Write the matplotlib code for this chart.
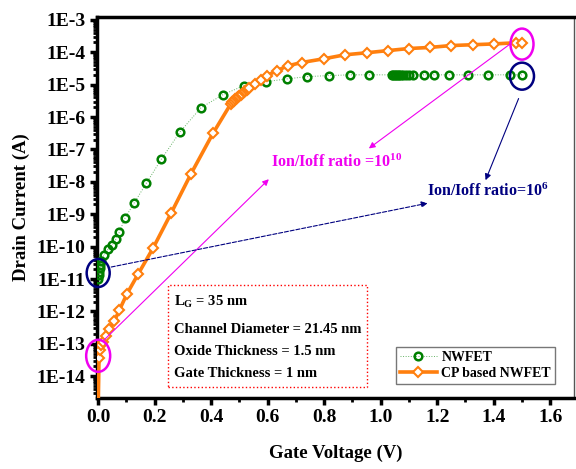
import matplotlib
matplotlib.use("Agg")
from matplotlib import pyplot as plt
from matplotlib.patches import Ellipse, Rectangle
from matplotlib.transforms import ScaledTranslation
from matplotlib.ticker import FixedLocator, LogLocator, NullFormatter, MultipleLocator

plt.rcParams['font.family'] = 'Liberation Serif'
plt.rcParams['font.weight'] = 'bold'
plt.rcParams['mathtext.fontset'] = 'custom'
plt.rcParams['mathtext.rm'] = 'Liberation Serif:bold'
plt.rcParams['mathtext.it'] = 'Liberation Serif:bold'
plt.rcParams['mathtext.bf'] = 'Liberation Serif:bold'
plt.rcParams['mathtext.default'] = 'rm'

# NWFET (green circles)
nw_v = [0.0, 0.002, 0.004, 0.006, 0.008, 0.01, 0.02, 0.035, 0.05, 0.063, 0.075,
        0.095, 0.127, 0.17, 0.223, 0.29, 0.364, 0.442, 0.516, 0.594, 0.668,
        0.738, 0.816, 0.89, 0.96, 1.04, 1.045, 1.05, 1.055, 1.06, 1.065, 1.07,
        1.08, 1.09, 1.10, 1.115, 1.152, 1.19, 1.24, 1.31, 1.38, 1.456, 1.50]
nw_i = [1.0e-11, 1.3e-11, 1.7e-11, 2.2e-11, 2.8e-11, 3.5e-11, 5.5e-11, 8.3e-11,
        1.15e-10, 1.7e-10, 2.8e-10, 7.6e-10, 2.2e-9, 8.9e-9, 4.9e-8, 3.5e-7,
        1.95e-6, 4.9e-6, 9.3e-6, 1.23e-5, 1.5e-5, 1.76e-5, 1.9e-5, 2.0e-5,
        2.0e-5, 2.0e-5, 2.0e-5, 2.0e-5, 2.0e-5, 2.0e-5, 2.0e-5, 2.0e-5, 2.0e-5,
        2.0e-5, 2.0e-5, 2.0e-5, 2.0e-5, 2.0e-5, 2.0e-5, 2.0e-5, 2.0e-5, 2.0e-5,
        2.0e-5]

# CP based NWFET (orange diamonds)
cp_v = [0.0, 0.003, 0.005, 0.01, 0.017, 0.028, 0.04, 0.057, 0.075, 0.102, 0.141,
        0.194, 0.258, 0.329, 0.406, 0.47, 0.475, 0.48, 0.485, 0.49, 0.495, 0.50,
        0.505, 0.51, 0.515, 0.52, 0.525, 0.53, 0.534, 0.555, 0.576, 0.597, 0.633,
        0.671, 0.72, 0.80, 0.873, 0.95, 1.025, 1.10, 1.173, 1.247, 1.325, 1.40,
        1.477, 1.50]
cp_i = [1.0e-15, 3.7e-14, 6.6e-14, 9.0e-14, 1.1e-13, 1.8e-13, 2.9e-13, 5.0e-13,
        1.1e-12, 3.5e-12, 1.4e-11, 8.9e-11, 1.07e-9, 1.8e-8, 3.1e-7, 2.6e-6,
        2.9e-6, 3.2e-6, 3.5e-6, 3.8e-6, 4.1e-6, 4.5e-6, 4.9e-6, 5.3e-6, 5.8e-6,
        6.3e-6, 6.9e-6, 7.5e-6, 8.1e-6, 1.07e-5, 1.42e-5, 1.9e-5, 2.7e-5, 3.8e-5,
        4.8e-5, 6.3e-5, 8.3e-5, 9.6e-5, 1.12e-4, 1.3e-4, 1.4e-4, 1.6e-4, 1.7e-4,
        1.8e-4, 1.95e-4, 1.95e-4]

y_ticks = [1e-3, 1e-4, 1e-5, 1e-6, 1e-7, 1e-8, 1e-9, 1e-10, 1e-11, 1e-12, 1e-13, 1e-14]
y_labels = ['1E-3', '1E-4', '1E-5', '1E-6', '1E-7', '1E-8', '1E-9', '1E-10',
            '1E-11', '1E-12', '1E-13', '1E-14']
x_ticks = [0.0, 0.2, 0.4, 0.6, 0.8, 1.0, 1.2, 1.4, 1.6]
info_lines = ['L$_{G}$ = 35 nm', 'Channel Diameter = 21.45 nm',
              'Oxide Thickness = 1.5 nm', 'Gate Thickness = 1 nm']

GREEN = '#008000'
ORANGE = '#FF7F0E'
MAGENTA = '#F000F0'
NAVY = '#000080'


def ring(ax, x, y, w_px, h_px, color):
    tr = ax.figure.dpi_scale_trans + ScaledTranslation(x, y, ax.transData)
    ax.add_patch(Ellipse((0, 0), w_px / 100, h_px / 100, transform=tr, fill=False,
                         ec=color, lw=1.8, clip_on=False, zorder=6))


def arrow(ax, start, end, color, ls='-'):
    ax.annotate('', xy=end, xytext=start,
                arrowprops=dict(arrowstyle='-|>', color=color, lw=0.8, ls=ls,
                                mutation_scale=9, shrinkA=0, shrinkB=0), zorder=5)


fig = plt.figure(figsize=(5.76, 4.69), dpi=100)
ax = fig.add_axes([0.168, 0.151, 0.829, 0.813])

ax.plot(nw_v, nw_i, ls=':', lw=0.7, color='#66b366', marker='o', ms=5.5, mew=1.8,
        mfc='none', mec=GREEN, label='NWFET', zorder=3)
ax.plot(cp_v, cp_i, ls='-', lw=2.6, color=ORANGE, marker='D', ms=5.5, mew=1.5,
        mfc='white', mec=ORANGE, label='CP based NWFET', zorder=4)

ax.set_yscale('log')
ax.set_xlim(-0.005, 1.685)
ax.set_ylim(2.1e-15, 1.23e-3)
ax.yaxis.set_major_locator(FixedLocator(y_ticks))
ax.set_yticks(y_ticks, y_labels)
ax.yaxis.set_minor_locator(LogLocator(base=10, subs=range(2, 10), numticks=30))
ax.yaxis.set_minor_formatter(NullFormatter())
ax.set_xticks(x_ticks, [f'{v:.1f}' for v in x_ticks])
ax.xaxis.set_minor_locator(MultipleLocator(0.1))

for side in ['left', 'bottom', 'top']:
    ax.spines[side].set_linewidth(2.5)
ax.spines['right'].set_linewidth(1.0)
ax.spines['right'].set_color('#555555')

ax.tick_params(axis='both', which='major', direction='out', length=5, width=2.5,
               labelsize=14, pad=3)
ax.tick_params(axis='both', which='minor', direction='out', length=3, width=2)
ax.set_xlabel('Gate Voltage (V)', fontsize=13.5, fontweight='bold', labelpad=13)
ax.set_ylabel('Drain Current (A)', fontsize=13.5, fontweight='bold', labelpad=5)

# highlight rings
ring(ax, 1.50, 10 ** -3.75, 23, 31, MAGENTA)
ring(ax, 1.50, 10 ** -4.74, 24, 27, NAVY)
ring(ax, 0.0, 10 ** -10.815, 23, 28, NAVY)
ring(ax, 0.0, 10 ** -13.37, 24, 32, MAGENTA)

# arrows
arrow(ax, (1.459, 10 ** -3.74), (0.958, 10 ** -6.97), MAGENTA)
arrow(ax, (0.021, 10 ** -12.88), (0.604, 10 ** -7.92), MAGENTA)
arrow(ax, (1.488, 10 ** -5.43), (1.371, 10 ** -7.95), NAVY)
arrow(ax, (0.046, 10 ** -10.63), (1.166, 10 ** -8.66), NAVY, ls='--')

ax.text(0.364, 0.619, 'Ion/Ioff ratio =10$^{10}$', transform=ax.transAxes,
        color=MAGENTA, fontsize=11.5, fontweight='bold', va='center', ha='left')
ax.text(0.692, 0.543, 'Ion/Ioff ratio=10$^{6}$', transform=ax.transAxes,
        color=NAVY, fontsize=11.5, fontweight='bold', va='center', ha='left')

# device parameter box
ax.add_patch(Rectangle((0.149, 0.029), 0.417, 0.268, transform=ax.transAxes,
                       fill=False, ec='red', lw=1.0, ls=':', zorder=2))
for yy, line in zip([0.252, 0.181, 0.123, 0.066], info_lines):
    ax.text(0.161, yy, line, transform=ax.transAxes, fontsize=10.5,
            fontweight='bold', va='center', ha='left')

leg = ax.legend(loc='lower right', bbox_to_anchor=(0.96, 0.037), fontsize=10,
                fancybox=False, edgecolor='#777777', framealpha=1,
                handlelength=2.7, borderaxespad=0, borderpad=0.3,
                labelspacing=0.2, handletextpad=0.3)
leg.get_frame().set_linewidth(1.0)

fig.savefig('out.png', dpi=100)
